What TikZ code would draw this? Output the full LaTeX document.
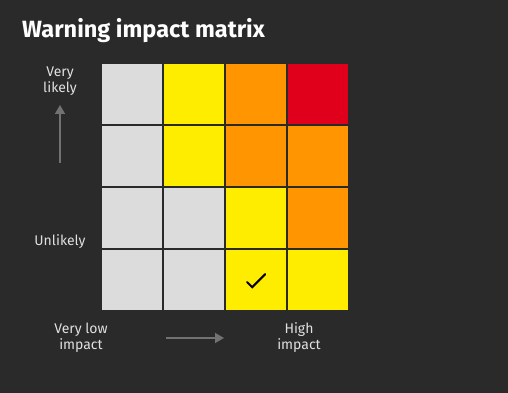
\documentclass[tikz,border=0pt]{standalone}
\usepackage{fontspec}
\setmainfont{Fira Sans}
\usetikzlibrary{arrows.meta}
\definecolor{bgdark}{HTML}{2A2A2A}
\definecolor{lowgrey}{HTML}{DCDCDC}
\definecolor{warnyellow}{HTML}{FFED00}
\definecolor{warnorange}{HTML}{FF9500}
\definecolor{warnred}{HTML}{E0001B}
\definecolor{axisgrey}{HTML}{727272}
\tikzset{
  cell/.style={draw=none, minimum size=60pt, inner sep=0pt, anchor=north west},
  axislabel/.style={text=white!88!black, font=\fontsize{14}{16}\selectfont, align=center},
  axisarrow/.style={draw=axisgrey, line width=1.5pt, -{Triangle[length=9pt, width=10pt]}}
}
\begin{document}
\begin{tikzpicture}[x=1pt, y=-1pt]
  \fill[bgdark] (0,0) rectangle (508,393);
  \useasboundingbox (0,0) rectangle (508,393);
  \node[anchor=base west, inner sep=0pt, text=white, font=\fontsize{23.5}{26}\selectfont\bfseries] (title) at (22,38) {Warning impact matrix};
  % the matrix, row by row from the top
  \foreach \row/\colours in {1/{lowgrey,warnyellow,warnorange,warnred},
                             2/{lowgrey,warnyellow,warnorange,warnorange},
                             3/{lowgrey,lowgrey,warnyellow,warnorange},
                             4/{lowgrey,lowgrey,warnyellow,warnyellow}} {
    \foreach \c [count=\col] in \colours {
      \node[cell, fill=\c] (cell-\row-\col) at ({102+62*(\col-1)},{64+62*(\row-1)}) {};
    }
  }
  \draw[black, line width=2pt, line cap=round, line join=miter]
    ([shift={(-9,2)}]cell-4-3.center) -- ([shift={(-4,7)}]cell-4-3.center) -- ([shift={(9,-6)}]cell-4-3.center);
  % likelihood axis
  \node[axislabel] (verylikely) at (60,81) {Very\\likely};
  \node[axislabel] (unlikely) at (60,242) {Unlikely};
  \coordinate (upstart) at (60,163);
  \coordinate (upend) at (60,105);
  \draw[axisarrow] (upstart) -- (upend);
  % impact axis
  \node[axislabel] (verylow) at (81,338) {Very low\\impact};
  \node[axislabel] (high) at (299,338) {High\\impact};
  \coordinate (rightstart) at (166,338);
  \coordinate (rightend) at (224,338);
  \draw[axisarrow] (rightstart) -- (rightend);
\end{tikzpicture}
\end{document}
